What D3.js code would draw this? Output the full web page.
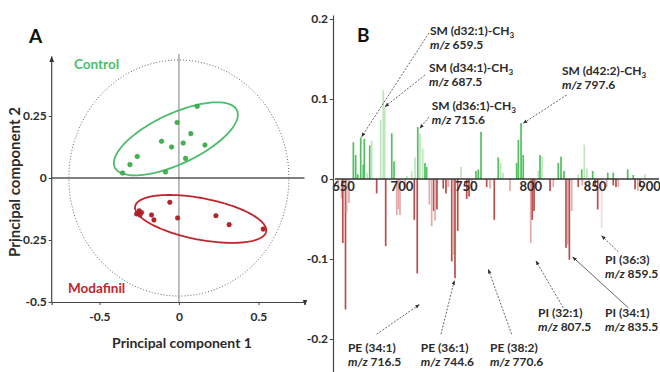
<!DOCTYPE html>
<html>
<head>
<meta charset="utf-8">
<script src="https://cdn.jsdelivr.net/npm/d3@7"></script>
<style>
  body { margin: 0; background: #fff; }
  svg text { font-family: Lato, 'Open Sans', sans-serif; font-weight: 700; }
</style>
</head>
<body>
<svg id="chart" width="660" height="372"></svg>
<script>
// ---- Panel A: PCA scores ----
const controlPts = [[0.115,0.289],[-0.011,0.224],[0.075,0.179],[-0.109,0.148],[0.027,0.141],[-0.046,0.125],
  [0.164,0.133],[-0.262,0.087],[0.042,0.079],[-0.308,0.054],[-0.354,0.020],[-0.084,0.024]];
const modafinilPts = [[-0.266,-0.145],[-0.250,-0.132],[-0.235,-0.139],[-0.245,-0.149],[-0.172,-0.149],[-0.157,-0.169],
  [-0.057,-0.098],[-0.008,-0.161],[0.233,-0.152],[0.316,-0.188],[0.530,-0.206]];
// confidence ellipses: centre plus two conjugate semi-diameters (data units)
const controlEllipse = { c: [-0.019, 0.158], u: [0.384, 0.115], v: [0.067, -0.092] };
const modafinilEllipse = { c: [0.137, -0.165], u: [0.412, -0.051], v: [-0.025, -0.082] };
const unitCircle = { rx: 0.692, ry: 0.476 };
const pcTicksX = [-0.5, 0, 0.5];
const pcTicksY = [-0.5, -0.25, 0, 0.25];

// ---- Panel B: loadings spectrum ----
const mzTicks = [650, 700, 750, 800, 850, 900];
const loadTicks = [-0.2, -0.1, 0, 0.1, 0.2];
const controlMz = [662.7,664.5,666.1,668.4,670.4,671.2,673.5,675.4,676.9,683.9,685.9,687.0,692.5,694.3,704.3,708.0,710.6,
  712.7,714.4,716.5,718.3,719.6,746.3,757.9,759.7,761.8,775.2,777.1,778.9,789.5,790.8,792.9,794.6,806.3,807.6,809.2,
  821.8,823.9,826.2,837.3,840.0,842.0,843.9,848.5,860.2,864.5,875.7,880.0,889.1];
const controlLoad = [0.046,0.030,0.006,0.052,0.018,0.050,0.008,0.042,0.048,0.074,0.111,0.090,0.057,0.022,0.004,0.010,0.027,
  0.065,0.057,0.038,0.020,0.015,0.015,0.010,0.012,0.059,0.027,0.020,0.008,0.020,0.049,0.070,0.030,0.010,0.030,0.028,
  0.020,0.028,0.010,0.006,0.012,0.043,0.013,0.010,0.008,0.008,0.012,0.005,0.006];
const controlTone = ['d','d','d','d','d','d','l','d','l','l','l','l','d','d','l','l','l','d','l','l','d','d','l','d','d',
  'd','d','l','l','d','d','d','d','l','d','l','d','d','d','l','d','l','l','d','d','d','d','d','l'];
const modafinilMz = [651.0,653.6,654.5,656.6,657.5,659.3,680.8,687.8,696.4,697.6,698.9,702.8,710.0,712.3,721.7,723.5,725.1,
  726.1,727.6,732.5,734.6,736.4,739.1,740.3,741.6,743.7,750.7,752.5,754.6,766.2,768.8,772.1,784.3,800.4,801.6,803.0,
  804.3,815.4,817.9,827.8,829.1,830.4,832.2,837.3,840.4,845.7,850.3,852.4,855.5,859.4,864.5,866.6,868.4,881.4,883.5,885.2];
const modafinilLoad = [-0.012,-0.024,-0.080,-0.163,-0.042,-0.030,-0.018,-0.084,-0.045,-0.038,-0.045,-0.012,-0.051,-0.118,
  -0.032,-0.059,-0.040,-0.052,-0.038,-0.012,-0.018,-0.010,-0.103,-0.095,-0.124,-0.065,-0.025,-0.022,-0.015,-0.010,-0.012,
  -0.051,-0.015,-0.080,-0.051,-0.040,-0.008,-0.015,-0.010,-0.086,-0.082,-0.101,-0.040,-0.010,-0.008,-0.014,-0.010,-0.038,
  -0.061,-0.010,-0.008,-0.010,-0.010,-0.013,-0.015,-0.010];
const modafinilTone = ['l','l','d','d','l','l','d','d','l','l','l','l','d','d','l','l','d','l','d','d','d','l','d','l','d',
  'd','d','d','l','d','l','d','l','l','d','d','l','d','l','d','l','d','l','d','l','l','d','d','v','l','d','d','l','d','l','d'];

// labels: text anchor, arrow start and arrow tip, all in (m/z, loading)
const peakNames = ['SM (d32:1)-CH', 'SM (d34:1)-CH', 'SM (d36:1)-CH', 'SM (d42:2)-CH',
  'PE (34:1)', 'PE (36:1)', 'PE (38:2)', 'PI (32:1)', 'PI (34:1)', 'PI (36:3)'];
const peakMz = ['659.5', '687.5', '715.6', '797.6', '716.5', '744.6', '770.6', '807.5', '835.5', '859.5'];
const labelAt = [[722.2,0.180],[721.4,0.134],[723.5,0.086],[824.7,0.130],[658.5,-0.216],[715.0,-0.216],[768.8,-0.216],
  [806.1,-0.172],[858.1,-0.172],[858.1,-0.106]];
const arrowFrom = [[721.4,0.1825],[718.3,0.130],[721.4,0.0775],[828.3,0.105],[680.8,-0.194],[730.7,-0.194],[785.6,-0.194],
  [825.7,-0.161],[876.2,-0.161],[868.4,-0.091]];
const arrowTo = [[669.2,0.0529],[687.3,0.0904],[714.4,0.0634],[794.6,0.0696],[713.9,-0.157],[741.1,-0.127],[767.5,-0.113],
  [804.5,-0.1025],[833.0,-0.0975],[855.5,-0.071]];

const svg = d3.select('#chart');
const ink = '#2b2b2b';
const minus = d => d3.format('')(d).replace('\u2212', '-');

svg.append('defs').append('marker')
  .attr('id', 'head')
  .attr('viewBox', '0 0 10 10')
  .attr('refX', 9).attr('refY', 5)
  .attr('markerWidth', 5).attr('markerHeight', 5)
  .attr('orient', 'auto-start-reverse')
  .append('path').attr('d', 'M0,1L10,5L0,9Z').attr('fill', '#333');

// ================= Panel A =================
const xA = d3.scaleLinear().domain([-0.8, 0.79]).range([51.7, 304.5]);
const yA = d3.scaleLinear().domain([-0.5, 0.49]).range([302, 56.5]);
const gA = svg.append('g');

gA.append('text').attr('x', 29).attr('y', 43).style('font-size', '19px').attr('fill', '#111').text('A');

// zero lines
gA.append('line')
  .attr('x1', xA(0)).attr('x2', xA(0)).attr('y1', yA(-0.5)).attr('y2', yA(0.5))
  .attr('stroke', '#a8a8a8').attr('stroke-width', 1.5);
gA.append('line')
  .attr('x1', xA(-0.8)).attr('x2', xA(0.79)).attr('y1', yA(0)).attr('y2', yA(0))
  .attr('stroke', '#555').attr('stroke-width', 1.3);

// dotted circle
const circ = d3.range(0, 2 * Math.PI + 0.01, Math.PI / 90)
  .map(t => [unitCircle.rx * Math.cos(t), unitCircle.ry * Math.sin(t)]);
const lineA = d3.line().x(d => xA(d[0])).y(d => yA(d[1])).curve(d3.curveLinearClosed);
gA.append('path').attr('d', lineA(circ))
  .attr('fill', 'none').attr('stroke', '#666').attr('stroke-width', 1).attr('stroke-dasharray', '1,2');

// axes
const axA = gA.append('g').attr('transform', `translate(0,${yA(-0.5)})`)
  .call(d3.axisBottom(xA).tickValues(pcTicksX).tickSize(3).tickPadding(7).tickFormat(minus));
const ayA = gA.append('g').attr('transform', `translate(${xA(-0.8)},0)`)
  .call(d3.axisLeft(yA).tickValues(pcTicksY).tickSize(3).tickPadding(2).tickFormat(minus));
[axA, ayA].forEach(a => {
  a.select('.domain').attr('stroke', '#444').attr('stroke-width', 1.2);
  a.selectAll('.tick line').attr('stroke', '#444');
  a.selectAll('text').style('font-size', '12px').attr('fill', ink);
});
axA.select('.domain').attr('marker-end', 'url(#head)');
ayA.select('.domain').attr('d', `M0,${yA(-0.5)}V${yA(0.49)}`).attr('marker-end', 'url(#head)');

function ellipsePath(e) {
  const pts = d3.range(0, 2 * Math.PI, Math.PI / 90).map(t => [
    e.c[0] + e.u[0] * Math.cos(t) + e.v[0] * Math.sin(t),
    e.c[1] + e.u[1] * Math.cos(t) + e.v[1] * Math.sin(t)
  ]);
  return lineA(pts);
}
gA.append('path').attr('d', ellipsePath(controlEllipse))
  .attr('fill', 'none').attr('stroke', '#4cbb6a').attr('stroke-width', 1.8);
gA.append('path').attr('d', ellipsePath(modafinilEllipse))
  .attr('fill', 'none').attr('stroke', '#c0262e').attr('stroke-width', 1.8);

gA.selectAll('.ctl').data(controlPts).enter().append('circle')
  .attr('cx', d => xA(d[0])).attr('cy', d => yA(d[1])).attr('r', 2.3)
  .attr('fill', '#3fb54f').attr('stroke', '#2f8f3c').attr('stroke-width', 0.5);
gA.selectAll('.mod').data(modafinilPts).enter().append('circle')
  .attr('cx', d => xA(d[0])).attr('cy', d => yA(d[1])).attr('r', 2.3)
  .attr('fill', '#b8232a').attr('stroke', '#8e1a20').attr('stroke-width', 0.5);

gA.append('text').attr('x', 74).attr('y', 69).style('font-size', '13.5px').attr('fill', '#45c36a').text('Control');
gA.append('text').attr('x', 68).attr('y', 293).style('font-size', '13.5px').attr('fill', '#c0262e').text('Modafinil');

gA.append('text').attr('x', 182).attr('y', 348).attr('text-anchor', 'middle')
  .style('font-size', '14px').attr('fill', ink).text('Principal component 1');
gA.append('text').attr('transform', 'translate(20,182) rotate(-90)').attr('text-anchor', 'middle')
  .style('font-size', '15px').attr('fill', ink).text('Principal component 2');

// ================= Panel B =================
const xB = d3.scaleLinear().domain([650, 900]).range([337, 659]);
const yB = d3.scaleLinear().domain([-0.241, 0.205]).range([371.8, 15]);
const gB = svg.append('g');
const barW = 1.7;
const greens = { d: '#52c060', l: '#bde6bd' };
const reds = { d: '#b84f4c', l: '#e2aaaa', v: '#f4dada' };

const ctlBars = controlMz.map((m, i) => ({ mz: m, v: controlLoad[i], tone: controlTone[i] }));
const modBars = modafinilMz.map((m, i) => ({ mz: m, v: modafinilLoad[i], tone: modafinilTone[i] }));

gB.selectAll('.bc').data(ctlBars).enter().append('rect')
  .attr('x', d => xB(d.mz) - barW / 2).attr('width', barW)
  .attr('y', d => yB(d.v)).attr('height', d => yB(0) - yB(d.v))
  .attr('fill', d => greens[d.tone]);
gB.selectAll('.bm').data(modBars).enter().append('rect')
  .attr('x', d => xB(d.mz) - barW / 2).attr('width', barW)
  .attr('y', yB(0)).attr('height', d => yB(d.v) - yB(0))
  .attr('fill', d => reds[d.tone]);

const axB = gB.append('g').attr('transform', `translate(0,${yB(0)})`)
  .call(d3.axisBottom(xB).tickValues(mzTicks).tickSize(0).tickPadding(3).tickSizeOuter(0));
axB.select('.domain').attr('stroke', '#333').attr('stroke-width', 1.3).attr('d', `M${xB(648.5)},0H${xB(900)}`);
axB.selectAll('text').style('font-size', '13px').attr('fill', ink);
axB.selectAll('.tick text').filter(d => d === 650).attr('dx', 6);
axB.selectAll('.tick text').filter(d => d === 900).attr('dx', -10);

const ayB = gB.append('g').attr('transform', `translate(333,0)`)
  .call(d3.axisLeft(yB).tickValues(loadTicks).tickSize(3).tickPadding(2).tickSizeOuter(0).tickFormat(minus));
ayB.select('.domain').attr('stroke', '#444').attr('stroke-width', 1.2);
ayB.selectAll('.tick line').attr('stroke', '#444');
ayB.selectAll('text').style('font-size', '12px').attr('fill', ink);

gB.append('text').attr('x', 357).attr('y', 42).style('font-size', '19px').attr('fill', '#111').text('B');

// annotation arrows
const solidArrow = ['PI (34:1)'];
gB.selectAll('.arr').data(peakNames).enter().append('line')
  .attr('x1', (d, i) => xB(arrowFrom[i][0])).attr('y1', (d, i) => yB(arrowFrom[i][1]))
  .attr('x2', (d, i) => xB(arrowTo[i][0])).attr('y2', (d, i) => yB(arrowTo[i][1]))
  .attr('stroke', '#555').attr('stroke-width', 0.9)
  .attr('stroke-dasharray', d => solidArrow.includes(d) ? null : '2,1.5')
  .attr('marker-end', 'url(#head)');

const lab = gB.selectAll('.lab').data(peakNames).enter().append('text')
  .attr('x', (d, i) => xB(labelAt[i][0])).attr('y', (d, i) => yB(labelAt[i][1]))
  .style('font-size', '12px').attr('fill', ink);
lab.append('tspan').text(d => d);
lab.filter(d => d.endsWith('CH')).append('tspan')
  .attr('dy', 3).style('font-size', '8px').text('3');
lab.append('tspan')
  .attr('x', (d, i) => xB(labelAt[i][0]))
  .attr('y', (d, i) => yB(labelAt[i][1]) + 14)
  .style('font-style', 'italic').text('m/z');
lab.append('tspan').text((d, i) => ' ' + peakMz[i]);
</script>
</body>
</html>
